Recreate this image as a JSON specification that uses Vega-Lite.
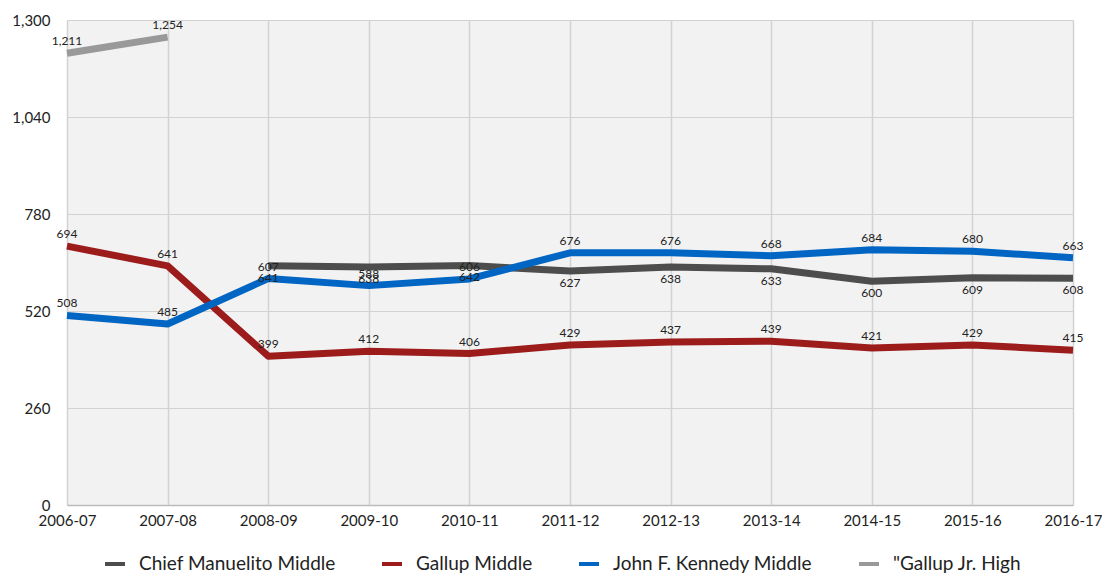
{
  "$schema": "https://vega.github.io/schema/vega-lite/v6.json",
  "autosize": {"type": "none"},
  "width": 1006,
  "height": 485,
  "padding": {"left": 67, "top": 20, "right": 29, "bottom": 68},
  "background": "white",
  "config": {
    "font": "Lato",
    "view": {"fill": "#f2f2f2", "stroke": null},
    "axis": {"labelFont": "Lato", "labelFontSize": 15, "labelColor": "#222222", "gridColor": "#d2d2d2", "gridWidth": 1.5, "domain": false, "ticks": false, "title": null}
  },
  "data": {
    "values": [
      {"year": "2008-09", "school": "Chief Manuelito Middle", "value": 641},
      {"year": "2009-10", "school": "Chief Manuelito Middle", "value": 638},
      {"year": "2010-11", "school": "Chief Manuelito Middle", "value": 642},
      {"year": "2011-12", "school": "Chief Manuelito Middle", "value": 627},
      {"year": "2012-13", "school": "Chief Manuelito Middle", "value": 638},
      {"year": "2013-14", "school": "Chief Manuelito Middle", "value": 633},
      {"year": "2014-15", "school": "Chief Manuelito Middle", "value": 600},
      {"year": "2015-16", "school": "Chief Manuelito Middle", "value": 609},
      {"year": "2016-17", "school": "Chief Manuelito Middle", "value": 608},
      {"year": "2006-07", "school": "Gallup Middle", "value": 694},
      {"year": "2007-08", "school": "Gallup Middle", "value": 641},
      {"year": "2008-09", "school": "Gallup Middle", "value": 399},
      {"year": "2009-10", "school": "Gallup Middle", "value": 412},
      {"year": "2010-11", "school": "Gallup Middle", "value": 406},
      {"year": "2011-12", "school": "Gallup Middle", "value": 429},
      {"year": "2012-13", "school": "Gallup Middle", "value": 437},
      {"year": "2013-14", "school": "Gallup Middle", "value": 439},
      {"year": "2014-15", "school": "Gallup Middle", "value": 421},
      {"year": "2015-16", "school": "Gallup Middle", "value": 429},
      {"year": "2016-17", "school": "Gallup Middle", "value": 415},
      {"year": "2006-07", "school": "John F. Kennedy Middle", "value": 508},
      {"year": "2007-08", "school": "John F. Kennedy Middle", "value": 485},
      {"year": "2008-09", "school": "John F. Kennedy Middle", "value": 607},
      {"year": "2009-10", "school": "John F. Kennedy Middle", "value": 588},
      {"year": "2010-11", "school": "John F. Kennedy Middle", "value": 606},
      {"year": "2011-12", "school": "John F. Kennedy Middle", "value": 676},
      {"year": "2012-13", "school": "John F. Kennedy Middle", "value": 676},
      {"year": "2013-14", "school": "John F. Kennedy Middle", "value": 668},
      {"year": "2014-15", "school": "John F. Kennedy Middle", "value": 684},
      {"year": "2015-16", "school": "John F. Kennedy Middle", "value": 680},
      {"year": "2016-17", "school": "John F. Kennedy Middle", "value": 663},
      {"year": "2006-07", "school": "\"Gallup Jr. High", "value": 1211},
      {"year": "2007-08", "school": "\"Gallup Jr. High", "value": 1254}
    ]
  },
  "encoding": {
    "x": {
      "field": "year", "type": "ordinal",
      "scale": {"type": "point", "padding": 0},
      "axis": {"labelAngle": 0, "grid": true, "labelPadding": 8, "domain": true, "domainColor": "#bbbbbb", "domainWidth": 1.5}
    },
    "y": {
      "field": "value", "type": "quantitative",
      "scale": {"domain": [0, 1300], "nice": false},
      "axis": {"values": [0, 260, 520, 780, 1040, 1300], "format": ",.0f", "labelPadding": 17, "gridWidth": 1}
    }
  },
  "layer": [
    {
      "mark": {"type": "line", "strokeWidth": 7, "strokeJoin": "round"},
      "encoding": {
        "color": {
          "field": "school", "type": "nominal",
          "scale": {
            "domain": ["Chief Manuelito Middle", "Gallup Middle", "John F. Kennedy Middle", "\"Gallup Jr. High"],
            "range": ["#4d4d4d", "#9c1b1b", "#0065c3", "#999999"]
          },
          "legend": {
            "title": null, "orient": "none", "direction": "horizontal",
            "legendX": 36, "legendY": 532,
            "symbolType": "stroke", "symbolStrokeWidth": 4, "symbolSize": 400,
            "labelFont": "Lato", "labelFontSize": 19, "labelColor": "#222222",
            "columnPadding": 38, "labelOffset": 12, "labelLimit": 400
          }
        }
      }
    },
    {
      "transform": [{"filter": "datum.school !== 'Chief Manuelito Middle'"}],
      "mark": {"type": "text", "dy": -12, "fontSize": 12, "font": "Lato", "color": "#222222"},
      "encoding": {"text": {"field": "value", "type": "quantitative", "format": ","}}
    },
    {
      "transform": [{"filter": "datum.school === 'Chief Manuelito Middle'"}],
      "mark": {"type": "text", "dy": 12, "fontSize": 12, "font": "Lato", "color": "#222222"},
      "encoding": {"text": {"field": "value", "type": "quantitative", "format": ","}}
    }
  ]
}
